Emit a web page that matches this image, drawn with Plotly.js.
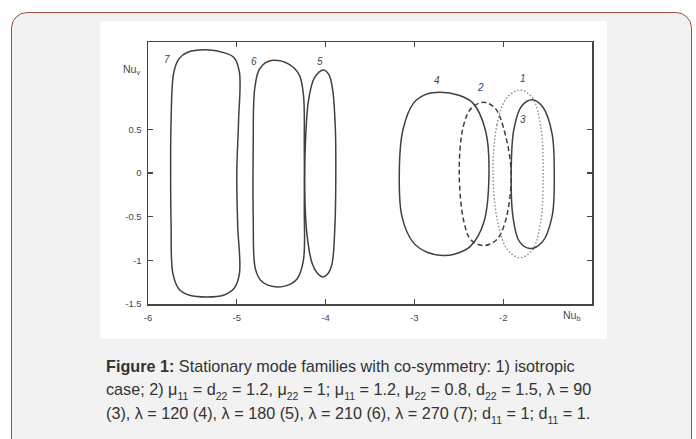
<!DOCTYPE html>
<html>
<head>
<meta charset="utf-8">
<script src="https://cdn.plot.ly/plotly-3.0.1.min.js"></script>
<style>
  html, body { margin: 0; padding: 0; width: 696px; height: 439px; overflow: hidden; background: #ffffff; }
  #box { position: absolute; left: 11px; top: 12px; width: 679px; height: 470px;
         border: 1.5px solid #a0503c; border-radius: 16px; background: #f2f2f2; }
  #panel { position: absolute; left: 100px; top: 21px; width: 507px; height: 318px; background: #ffffff; }
  #plot { width: 507px; height: 318px; }
  #caption { position: absolute; left: 106px; top: 355px; width: 580px;
             font-family: "Liberation Sans", Arial, sans-serif; font-size: 16.2px; line-height: 22.5px;
             color: #333333; white-space: nowrap; }
  #caption b { font-weight: bold; }
  .s { font-size: 10.5px; position: relative; top: 5px; }
</style>
</head>
<body>
<div id="box"></div>
<div id="panel"><div id="plot"></div></div>
<div id="caption"><b>Figure 1:</b> Stationary mode families with co-symmetry: 1) isotropic<br>case; 2) μ<span class="s">11</span> = d<span class="s">22</span> = 1.2, μ<span class="s">22</span> = 1; μ<span class="s">11</span> = 1.2, μ<span class="s">22</span> = 0.8, d<span class="s">22</span> = 1.5, λ = 90<br>(3), λ = 120 (4), λ = 180 (5), λ = 210 (6), λ = 270 (7); d<span class="s">11</span> = 1; d<span class="s">11</span> = 1.</div>
<script>
// Closed curves (Nu_b, Nu_v)
const loop1_x = [-2.115, -2.07, -1.96, -1.81, -1.67, -1.58, -1.55, -1.58, -1.67, -1.81, -1.95, -2.06, -2.115];
const loop1_y = [0, 0.55, 0.86, 0.95, 0.86, 0.55, 0, -0.57, -0.88, -0.97, -0.88, -0.57, 0];

const loop2_x = [-2.495, -2.45, -2.36, -2.22, -2.09, -2.00, -1.91, -1.98, -2.08, -2.22, -2.36, -2.44, -2.495];
const loop2_y = [0, 0.53, 0.74, 0.81, 0.74, 0.53, 0, -0.57, -0.77, -0.83, -0.77, -0.57, 0];

const loop3_x = [-1.91, -1.88, -1.79, -1.67, -1.55, -1.45, -1.425, -1.45, -1.56, -1.70, -1.82, -1.89, -1.91];
const loop3_y = [0, 0.5, 0.77, 0.84, 0.75, 0.45, 0, -0.5, -0.79, -0.865, -0.78, -0.5, 0];

const loop4_x = [-3.17, -3.13, -3.01, -2.87, -2.71, -2.50, -2.34, -2.20, -2.16, -2.22, -2.37, -2.55, -2.68, -2.85, -3.01, -3.14, -3.17];
const loop4_y = [0, 0.49, 0.80, 0.90, 0.925, 0.89, 0.80, 0.49, 0, -0.57, -0.84, -0.93, -0.945, -0.91, -0.80, -0.50, 0];

const loop5_x = [-4.235, -4.225, -4.19, -4.12, -4.02, -3.96, -3.92, -3.89, -3.885, -3.895, -3.93, -3.98, -4.03, -4.09, -4.15, -4.21, -4.235];
const loop5_y = [-0.2, 0.4, 0.85, 1.10, 1.18, 1.12, 0.95, 0.5, 0, -0.6, -1.05, -1.16, -1.19, -1.15, -1.04, -0.7, -0.2];

const loop6_x = [-4.815, -4.80, -4.75, -4.68, -4.59, -4.42, -4.30, -4.25, -4.24, -4.24, -4.25, -4.32, -4.44, -4.59, -4.72, -4.79, -4.815, -4.815];
const loop6_y = [0.3, 0.95, 1.18, 1.26, 1.29, 1.25, 1.13, 0.9, 0.3, -0.4, -1.0, -1.21, -1.29, -1.30, -1.24, -1.1, -0.5, 0.3];

const loop7_x = [-5.745, -5.74, -5.71, -5.65, -5.56, -5.34, -5.12, -5.03, -4.97, -4.98, -5.00, -4.99, -4.97, -5.03, -5.15, -5.34, -5.53, -5.65, -5.72, -5.74, -5.745];
const loop7_y = [0, 0.6, 1.15, 1.31, 1.38, 1.41, 1.37, 1.32, 1.15, 0.6, 0.0, -0.6, -1.15, -1.32, -1.40, -1.42, -1.40, -1.33, -1.15, -0.6, 0];

const xTickVals = [-6, -5, -4, -3, -2];
const xTickText = ['-6', '-5', '-4', '-3', '-2'];
const yTickVals = [-1.5, -1, -0.5, 0, 0.5];
const yTickText = ['-1.5', '-1', '-0.5', '0', '0.5'];

const curveLabels = ['7', '6', '5', '4', '2', '1', '3'];
const labelX = [-5.79, -4.81, -4.064, -2.749, -2.26, -1.772, -1.772];
const labelY = [1.295, 1.275, 1.275, 1.058, 0.983, 1.086, 0.609];

function loop(x, y, color, dash, width) {
  return { type: 'scatter', mode: 'lines', x: x, y: y, hoverinfo: 'skip', showlegend: false,
           line: { color: color, dash: dash, width: width, shape: 'spline', smoothing: 1 } };
}

const data = [
  loop(loop7_x, loop7_y, '#404040', 'solid', 1.5),
  loop(loop6_x, loop6_y, '#404040', 'solid', 1.5),
  loop(loop5_x, loop5_y, '#404040', 'solid', 1.5),
  loop(loop4_x, loop4_y, '#404040', 'solid', 1.5),
  loop(loop2_x, loop2_y, '#404040', '5px,3px', 1.5),
  loop(loop1_x, loop1_y, '#8a8a8a', '1.5px,2px', 1.4),
  loop(loop3_x, loop3_y, '#404040', 'solid', 1.5)
];

const fontFam = 'Liberation Sans, Arial, sans-serif';
const annotations = curveLabels.map((t, i) => ({
  x: labelX[i], y: labelY[i], xref: 'x', yref: 'y', text: '<i>' + t + '</i>', showarrow: false,
  font: { family: fontFam, size: 10, color: '#3f4558' }
}));
annotations.push({ xref: 'paper', yref: 'y', x: -0.014, y: 1.18, text: 'Nu<sub>v</sub>', showarrow: false,
  xanchor: 'right', yanchor: 'middle', font: { family: fontFam, size: 10.5, color: '#3f4558' } });
annotations.push({ xref: 'paper', yref: 'paper', x: 0.955, y: -0.044, text: 'Nu<sub>b</sub>', showarrow: false,
  xanchor: 'center', yanchor: 'middle', font: { family: fontFam, size: 10.5, color: '#3f4558' } });

const axisCommon = {
  showgrid: false, zeroline: false, showline: true, linecolor: '#454545', linewidth: 1.5,
  mirror: 'ticks', ticks: 'inside', ticklen: 5, tickwidth: 1.2, tickcolor: '#454545',
  tickfont: { family: fontFam, size: 9.5, color: '#3f4558' }
};

const layout = {
  width: 507, height: 318,
  margin: { l: 48, r: 15, t: 21, b: 34.5 },
  paper_bgcolor: '#ffffff', plot_bgcolor: '#ffffff',
  xaxis: Object.assign({}, axisCommon, { range: [-6, -1], tickmode: 'array', tickvals: xTickVals, ticktext: xTickText, ticklabelstandoff: 4 }),
  yaxis: Object.assign({}, axisCommon, { range: [-1.5, 1.5], tickmode: 'array', tickvals: yTickVals, ticktext: yTickText, ticklabelstandoff: 3 }),
  annotations: annotations,
  showlegend: false
};

Plotly.newPlot('plot', data, layout, { staticPlot: true, displayModeBar: false });
</script>
</body>
</html>
